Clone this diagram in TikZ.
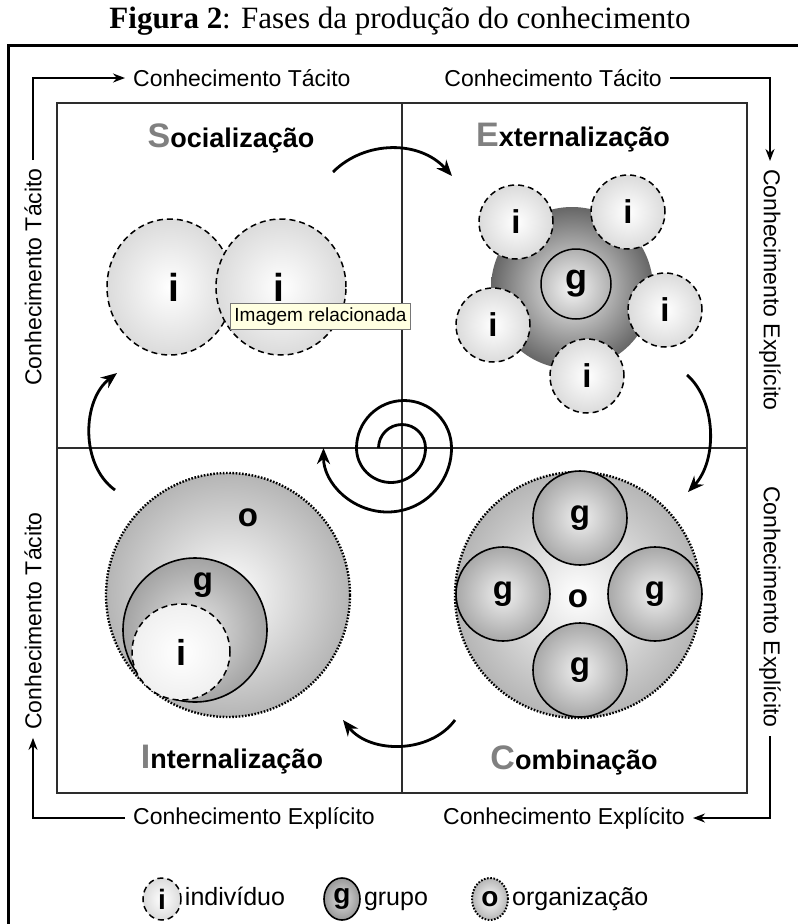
\documentclass[tikz,border=0pt]{standalone}
\usepackage{fontspec}
\setmainfont{Liberation Serif}
\setsansfont{Liberation Sans}
\usepackage{tikz}
\usetikzlibrary{arrows.meta,positioning,shapes.geometric,calc}
\definecolor{InitialGray}{RGB}{128,128,128}
\definecolor{TipYellow}{RGB}{255,255,225}
\definecolor{TipBorder}{RGB}{118,118,118}
\definecolor{SquareGray}{RGB}{45,45,45}

\begin{document}
\begin{tikzpicture}[x=1pt,y=-1pt,
  lbl/.style={font=\sffamily\fontsize{23}{26}\selectfont, inner sep=8pt},
  bracket/.style={line width=1.8pt, -{Stealth[length=12pt,width=9pt]}},
  phase/.style={line width=2.8pt, -{Stealth[length=16pt,width=13pt]}},
  letter/.style={font=\sffamily\bfseries\fontsize{33}{33}\selectfont, inner sep=0pt},
  title/.style={font=\sffamily\bfseries\fontsize{27}{30}\selectfont, inner sep=0pt},
  ind/.style={ellipse, draw, dash pattern=on 6pt off 4pt, line width=1.5pt, inner sep=0pt,
    inner color=white, outer color=gray!28},
  grp/.style={circle, draw, line width=1.6pt, inner sep=0pt, inner color=gray!12, outer color=gray!68},
  org/.style={circle, draw, dash pattern=on 1.6pt off 1.6pt, line width=2.4pt, inner sep=0pt,
    inner color=white, outer color=gray!58},
  tooltip/.style={draw=TipBorder, fill=TipYellow, line width=0.8pt, inner sep=4pt,
    font=\sffamily\fontsize{19}{21}\selectfont},
  legtxt/.style={inner sep=3pt, text height=18pt, text depth=5pt, font=\sffamily\fontsize{25}{27}\selectfont}]
  \useasboundingbox (0,0) rectangle (798,924);

  % Title and frame
  \node[font=\fontsize{31}{33}\selectfont] (fig) at (400,21) {\textbf{Figura 2}: Fases da produção do conhecimento};
  \draw[line width=3pt] (8,924) -- (8,45) -- (798,45);

  % Quadrants
  \draw[SquareGray, line width=1.6pt] (57,103) rectangle (747,793);
  \draw[SquareGray, line width=1.6pt] (402,103) -- (402,793);
  \draw[SquareGray, line width=1.6pt] (57,448) -- (747,448);

  % Knowledge labels round the square
  \node[lbl, anchor=west] (tacTop) at (125,78) {Conhecimento Tácito};
  \node[lbl, anchor=east] (tacTopR) at (670,78) {Conhecimento Tácito};
  \node[lbl, rotate=90] (tacSoc) at (33,277) {Conhecimento Tácito};
  \node[lbl, rotate=90] (tacInt) at (33,621) {Conhecimento Tácito};
  \node[lbl, rotate=-90] (explExt) at (770,290) {Conhecimento Explícito};
  \node[lbl, rotate=-90] (explCom) at (770,607) {Conhecimento Explícito};
  \node[lbl, anchor=west] (explBot) at (125,818) {Conhecimento Explícito};
  \node[lbl, anchor=east] (explBotR) at (693,818) {Conhecimento Explícito};
  \draw[bracket] (tacSoc.east) |- (tacTop.west);
  \draw[bracket] (tacTopR.east) -| (explExt.west);
  \draw[bracket] (explCom.east) |- (explBotR.east);
  \draw[bracket] (explBot.west) -| (tacInt.west);

  % Phase titles
  \node[title] (soc) at (231,138) {{\color{InitialGray}\fontsize{34}{34}\selectfont S}ocialização};
  \node[title] (ext) at (573,138) {{\color{InitialGray}\fontsize{34}{34}\selectfont E}xternalização};
  \node[title] (int) at (232,760) {{\color{InitialGray}\fontsize{34}{34}\selectfont I}nternalização};
  \node[title] (com) at (574,760) {{\color{InitialGray}\fontsize{34}{34}\selectfont C}ombinação};

  % Socializacao
  \node[ind, minimum width=126pt, minimum height=136pt] (soc-a) at (170,287) {};
  \node[ind, minimum width=130pt, minimum height=136pt] (soc-b) at (281,287) {};
  \node[letter, font=\sffamily\bfseries\fontsize{39}{39}\selectfont] at (174,287) {i};
  \node[letter, font=\sffamily\bfseries\fontsize{39}{39}\selectfont] at (279,287) {i};
  \node[tooltip, anchor=north west, minimum height=26pt] (tip) at (230,303) {Imagem relacionada};

  % Externalizacao
  \node[circle, inner sep=0pt, minimum size=162pt, inner color=gray!8, outer color=gray!80!black] (ext-g) at (572,288) {};
  \node[circle, draw, line width=1.5pt, minimum size=70pt, inner sep=0pt, letter,
    font=\sffamily\bfseries\fontsize{36}{36}\selectfont] (ext-gi) at (576,284) {g};
  \foreach \x/\y [count=\k] in {516/222, 628/212, 665/310, 587/376, 493/325}{
    \node[ind, minimum width=74pt, minimum height=74pt, letter] (ext-i\k) at (\x,\y) {i};
  }

  % Combinacao
  \node[org, minimum size=246pt] (com-o) at (578,595) {};
  \node[letter] at (578,599) {o};
  \foreach \x/\y [count=\k] in {580/518, 503/594, 655/594, 580/670}{
    \node[grp, minimum size=94pt, letter] (com-g\k) at (\x,\y) {g};
  }

  % Internalizacao
  \node[org, minimum size=244pt] (int-o) at (228,595) {};
  \node[letter] at (248,518) {o};
  \node[grp, minimum size=144pt, inner color=gray!20, outer color=gray!72] (int-g) at (195,630) {};
  \node[letter] at (203,585) {g};
  \node[ind, minimum width=98pt, minimum height=96pt, inner color=white, outer color=gray!12, letter,
    font=\sffamily\bfseries\fontsize{36}{36}\selectfont] (int-i) at (181,652) {i};

  % Spiral in the middle
  \coordinate (sp) at (402,448);
  \draw[phase] ($(sp)+(-23.5,0)$) arc (180:360:23.5) arc (0:180:34.5)
    arc (180:360:47.5) arc (0:180:64);

  % Arrows from phase to phase
  \coordinate (soc-out) at (333,172);
  \coordinate (ext-in) at (452,176);
  \coordinate (ext-out) at (687,375);
  \coordinate (com-in) at (688,492);
  \coordinate (com-out) at (455,720);
  \coordinate (int-in) at (343,720);
  \coordinate (int-out) at (115,490);
  \coordinate (soc-in) at (117,373);
  \draw[phase] (soc-out) .. controls (365,140) and (420,140) .. (ext-in);
  \draw[phase] (ext-out) .. controls (716,400) and (718,460) .. (com-in);
  \draw[phase] (com-out) .. controls (430,754) and (370,754) .. (int-in);
  \draw[phase] (int-out) .. controls (80,465) and (82,400) .. (soc-in);

  % Legend
  \node[ind, minimum width=38pt, minimum height=42pt, letter, font=\sffamily\bfseries\fontsize{28}{28}\selectfont] (leg-i) at (162,899) {i};
  \node[legtxt, right=0pt of leg-i] (leg-it) {indivíduo};
  \node[grp, ellipse, minimum width=36pt, minimum height=42pt, inner color=gray!25, outer color=gray!80, letter, font=\sffamily\bfseries\fontsize{28}{28}\selectfont] (leg-g) at (342,899) {g};
  \node[legtxt, right=0pt of leg-g] (leg-gt) {grupo};
  \node[org, ellipse, minimum width=36pt, minimum height=42pt, line width=2pt, letter, font=\sffamily\bfseries\fontsize{28}{28}\selectfont] (leg-o) at (490,899) {o};
  \node[legtxt, right=0pt of leg-o] (leg-ot) {organização};
\end{tikzpicture}
\end{document}
